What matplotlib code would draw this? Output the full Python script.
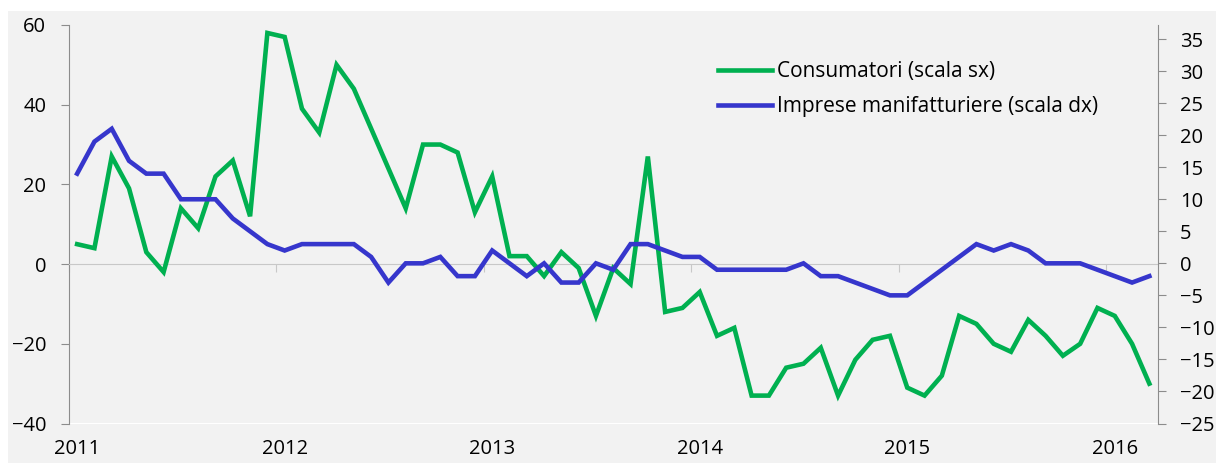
import numpy as np
import matplotlib.pyplot as plt
from matplotlib.patches import Rectangle

plt.rcParams['font.family'] = ['Open Sans', 'DejaVu Sans']
plt.rcParams['font.size'] = 14.5

# monthly data, Jan 2011 .. Mar 2016
consumatori = [5, 4, 27, 19, 3, -2, 14, 9, 22, 26, 12, 58,
               57, 39, 33, 50, 44, 34, 24, 14, 30, 30, 28, 13,
               22, 2, 2, -3, 3, -1, -13, -1, -5, 27, -12, -11,
               -7, -18, -16, -33, -33, -26, -25, -21, -33, -24, -19, -18,
               -31, -33, -28, -13, -15, -20, -22, -14, -18, -23, -20, -11,
               -13, -20, -30]
imprese = [14, 19, 21, 16, 14, 14, 10, 10, 10, 7, 5, 3,
           2, 3, 3, 3, 3, 1, -3, 0, 0, 1, -2, -2,
           2, 0, -2, 0, -3, -3, 0, -1, 3, 3, 2, 1,
           1, -1, -1, -1, -1, -1, 0, -2, -2, -3, -4, -5,
           -5, -3, -1, 1, 3, 2, 3, 2, 0, 0, 0, -1,
           -2, -3, -2]
years = ['2011', '2012', '2013', '2014', '2015', '2016']

green = '#00B050'
blue = '#3636CC'
axis_gray = '#8C8C8C'

fig = plt.figure(figsize=(12.16, 4.63), dpi=100)
fig.patches.append(Rectangle((8 / 1216, 0), 1, 1 - 11 / 463, transform=fig.transFigure,
                             facecolor='#F2F2F2', edgecolor='none', zorder=-10))
ax = fig.add_axes([68.5 / 1216, 1 - 423.5 / 463, (1158 - 68.5) / 1216, (423.5 - 25) / 463])
ax.set_facecolor('none')
ax2 = ax.twinx()

x = np.arange(len(consumatori))
l1, = ax.plot(x, consumatori, color=green, lw=3.3, solid_joinstyle='miter', zorder=3)
l2, = ax2.plot(x, imprese, color=blue, lw=3.3, solid_joinstyle='miter', zorder=3)

ax.set_xlim(-0.5, len(x) - 0.5)
ax.set_ylim(-40, 60)
ax.set_yticks(np.arange(-40, 61, 20))
ax2.set_ylim(-25, 37.2)
ax2.set_yticks(np.arange(-25, 36, 5))

# category axis crossing at zero, tick marks between years
ax.spines['bottom'].set_position(('data', 0))
ax.spines['bottom'].set_color('#C8C8C8')
ax.spines['top'].set_visible(False)
ax.spines['right'].set_visible(False)
ax.spines['left'].set_color(axis_gray)
ax.set_xticks(np.arange(-0.5, len(x), 12))
ax.tick_params(axis='x', length=6, color='#C8C8C8', labelbottom=False)
ax.tick_params(axis='y', length=6, color=axis_gray, pad=10)

jan = [12 * i for i in range(len(years))]
sec = ax.secondary_xaxis('bottom')
sec.set_xticks(jan, years)
sec.spines['bottom'].set_visible(False)
sec.tick_params(length=0, pad=11)

for s in ['top', 'left', 'bottom']:
    ax2.spines[s].set_visible(False)
ax2.spines['right'].set_color(axis_gray)
ax2.tick_params(axis='y', length=6, color=axis_gray, pad=10)

ax.legend([l1, l2], ['Consumatori (scala sx)', 'Imprese manifatturiere (scala dx)'],
          loc='upper left', bbox_to_anchor=(718 / 1216, 1 - 61 / 463),
          bbox_transform=fig.transFigure, frameon=False, borderpad=0, borderaxespad=0,
          handlelength=2.6, handletextpad=0.24, labelspacing=0.68, fontsize=15)

fig.savefig('out.png', dpi=100)
